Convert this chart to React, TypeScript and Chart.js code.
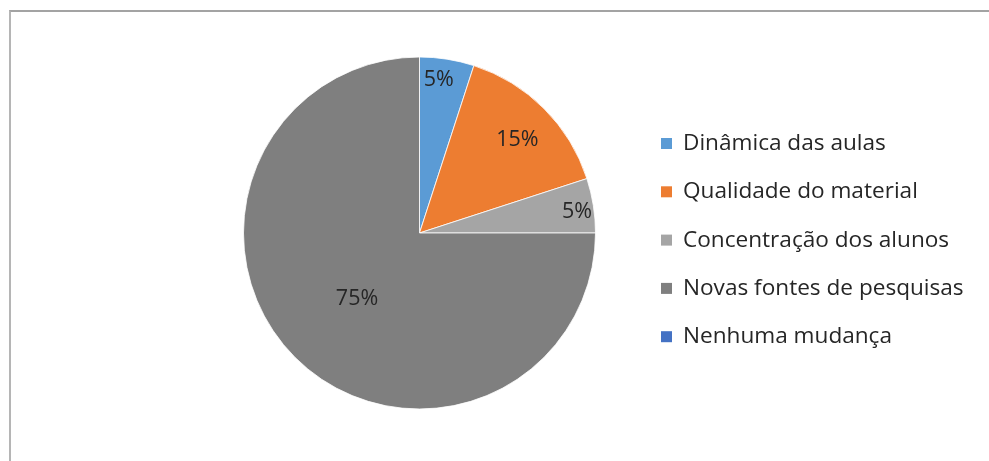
import React, { useEffect, useRef } from "react";
import { Chart, registerables } from "chart.js";

Chart.register(...registerables);

const categories = [
  "Dinâmica das aulas",
  "Qualidade do material",
  "Concentração dos alunos",
  "Novas fontes de pesquisas",
  "Nenhuma mudança",
];
const values = [5, 15, 5, 75, 0];
const valueLabels = ["5%", "15%", "5%", "75%", ""];
const colors = ["#5B9BD5", "#ED7D31", "#A5A5A5", "#7F7F7F", "#4472C4"];

const FONT = "'Open Sans', sans-serif";

const labelPlugin = {
  id: "sliceLabels",
  afterDatasetsDraw(chart: any, _args: any, opts: any) {
    const ctx = chart.ctx;
    const meta = chart.getDatasetMeta(0);
    const radii: number[] = opts.radii;
    ctx.save();
    ctx.fillStyle = "#262626";
    ctx.font = `21.5px ${FONT}`;
    ctx.textAlign = "center";
    ctx.textBaseline = "middle";
    meta.data.forEach((arc: any, i: number) => {
      const text = valueLabels[i];
      if (!text) return;
      const { x, y, startAngle, endAngle, outerRadius } = arc.getProps(
        ["x", "y", "startAngle", "endAngle", "outerRadius"],
        true
      );
      const mid = (startAngle + endAngle) / 2;
      const r = outerRadius * radii[i];
      ctx.fillText(
        text,
        x + Math.cos(mid) * r + (opts.dx[i] || 0),
        y + Math.sin(mid) * r + (opts.dy[i] || 0)
      );
    });
    ctx.restore();
  },
};

const legendPlugin = {
  id: "sideLegend",
  afterDraw(chart: any, _args: any, opts: any) {
    const ctx = chart.ctx;
    ctx.save();
    ctx.font = `22.6px ${FONT}`;
    ctx.textBaseline = "middle";
    ctx.textAlign = "left";
    categories.forEach((c, i) => {
      const cy = opts.top + i * opts.step;
      ctx.fillStyle = colors[i];
      ctx.fillRect(opts.boxX, cy - 5.5, 11, 11);
      ctx.fillStyle = "#262626";
      ctx.fillText(c, opts.textX, cy);
    });
    ctx.restore();
  },
};

export default function App() {
  const ref = useRef<HTMLCanvasElement>(null);
  useEffect(() => {
    if (!ref.current) return;
    const chart = new Chart(ref.current, {
      type: "pie",
      data: {
        labels: categories,
        datasets: [
          {
            data: values,
            backgroundColor: colors,
            borderColor: "rgba(255,255,255,0.8)",
            borderWidth: 1,
          },
        ],
      },
      options: {
        animation: false,
        responsive: false,
        devicePixelRatio: 1,
        layout: { padding: { left: 243, right: 393, top: 56, bottom: 51 } },
        plugins: {
          legend: { display: false },
          tooltip: { enabled: false },
          sliceLabels: {
            radii: [0.88, 0.77, 0.9, 0.51, 0.5],
            dx: [-5, 2, 1, 1, 0],
            dy: [0, 3, 4, 2, 0],
          },
          sideLegend: { top: 143.5, step: 48.3, boxX: 661, textX: 683 },
        } as any,
      },
      plugins: [labelPlugin, legendPlugin],
    });
    return () => chart.destroy();
  }, []);
  return (
    <div style={{ position: "fixed", left: 0, top: 0, width: 989, height: 461, background: "#fff" }}>
      <canvas ref={ref} width={989} height={461} style={{ position: "absolute", left: 0, top: 0 }} />
      <div
        style={{
          position: "absolute",
          left: 9,
          top: 10,
          width: 1000,
          height: 500,
          borderTop: "2px solid #a3a3a3",
          borderLeft: "2px solid #b5b5b5",
          pointerEvents: "none",
        }}
      />
    </div>
  );
}
